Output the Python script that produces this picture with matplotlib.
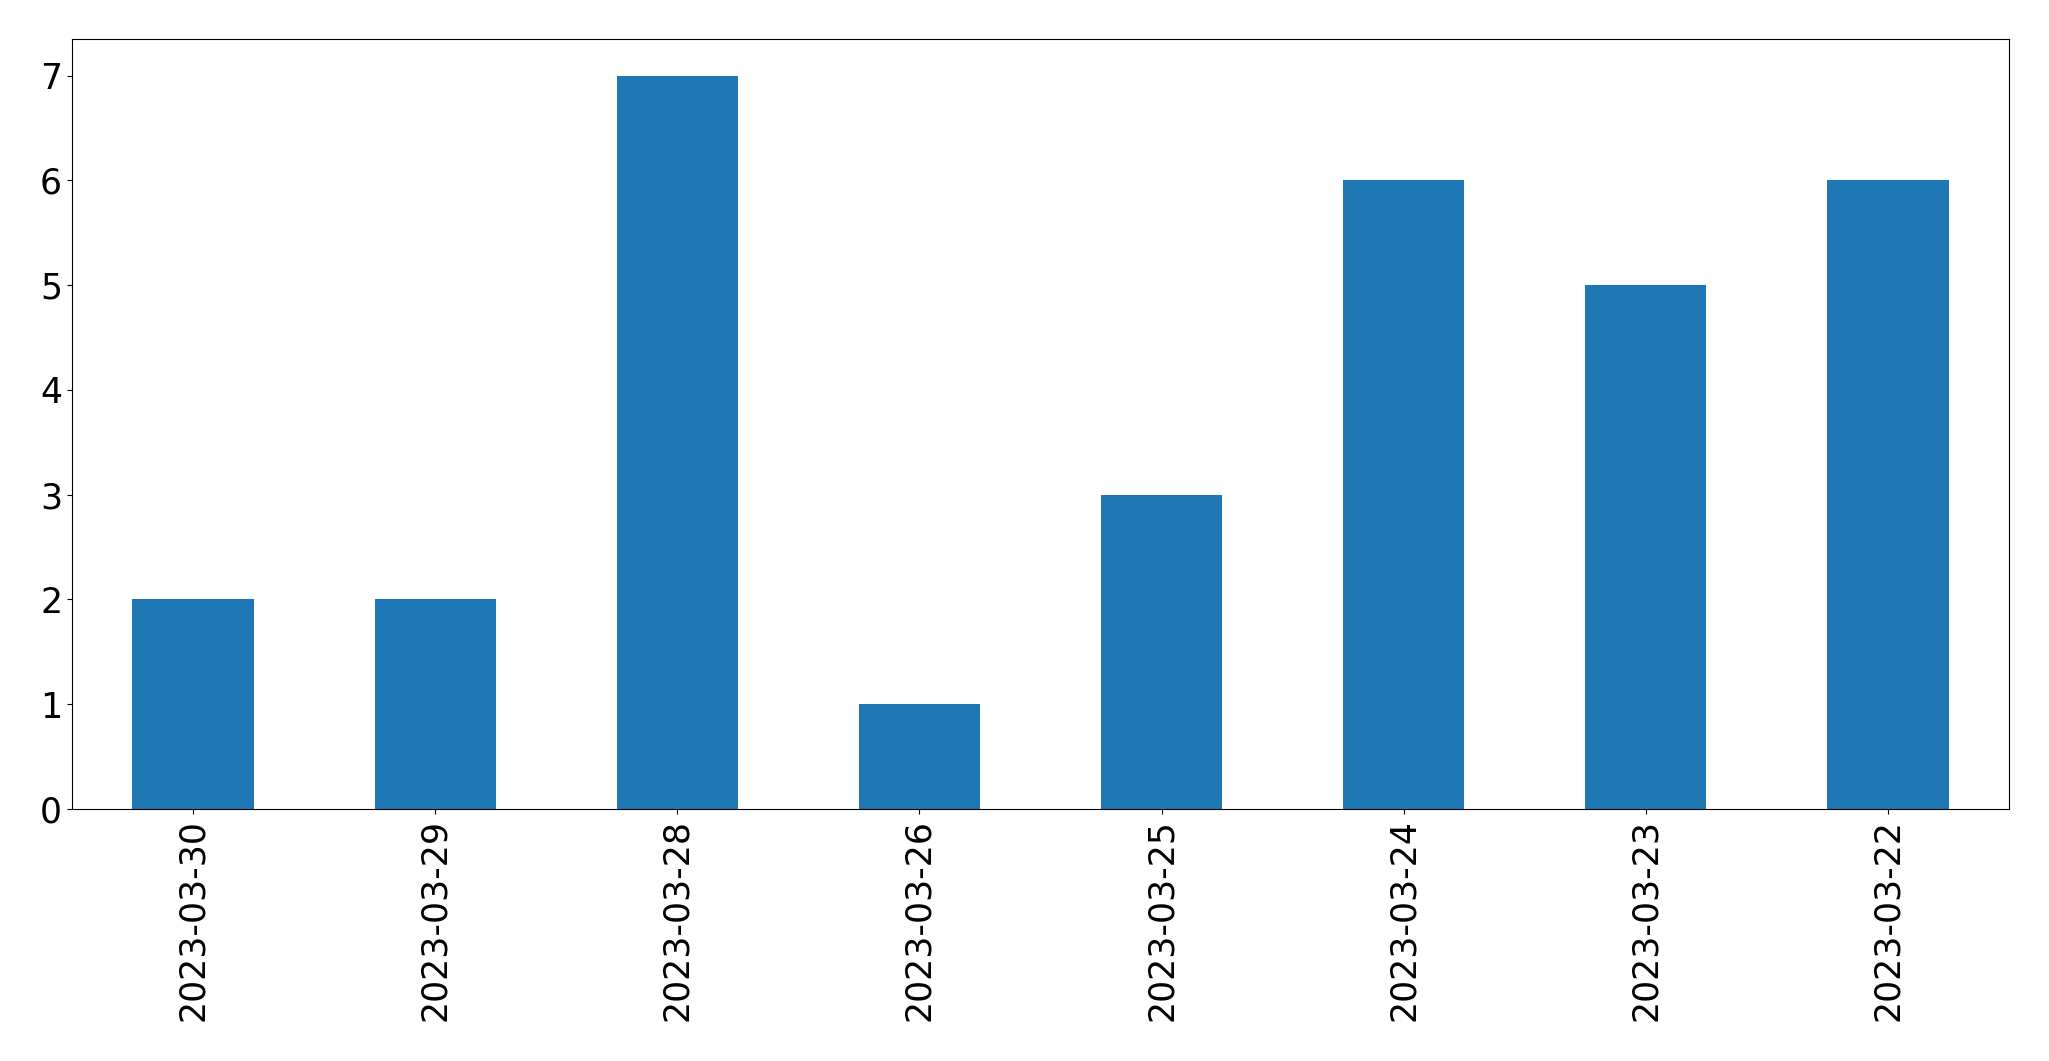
import matplotlib
matplotlib.use('Agg')
import matplotlib.pyplot as plt
import pandas as pd

dates = ['2023-03-30', '2023-03-29', '2023-03-28', '2023-03-26',
         '2023-03-25', '2023-03-24', '2023-03-23', '2023-03-22']
counts = [2, 2, 7, 1, 3, 6, 5, 6]

s = pd.Series(counts, index=dates)

fig, ax = plt.subplots(figsize=(20.49, 10.61), dpi=100)
s.plot(kind='bar', ax=ax, color='#1f77b4', fontsize=25)
plt.subplots_adjust(left=0.0351, right=0.9805, top=0.9632, bottom=0.2375)
fig.savefig('out.png', dpi=100)
